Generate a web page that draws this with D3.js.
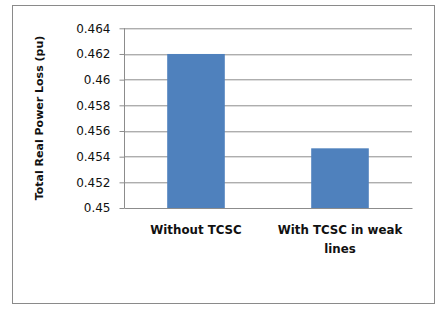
<!DOCTYPE html>
<html>
<head>
<meta charset="utf-8">
<script src="https://cdn.jsdelivr.net/npm/d3@7"></script>
<style>
    body { margin: 0; background: #fff; }
    svg { display: block; font-family: "DejaVu Sans", Verdana, sans-serif; }
</style>
</head>
<body>
<div id="chart"></div>
<script>

// data
var categories = [["Without TCSC"], ["With TCSC in weak", "lines"]];
var losses = [0.462, 0.45465];
var tickValues = [0.45, 0.452, 0.454, 0.456, 0.458, 0.46, 0.462, 0.464];

// drawing area
var W = 441, H = 310;
var margin = {top: 28.3, right: 29, bottom: 102, left: 124};
var width = W - margin.left - margin.right,
    height = H - margin.top - margin.bottom;

var svg = d3.select("#chart").append("svg")
    .attr("width", W)
    .attr("height", H);

// outer chart border
svg.append("rect")
    .attr("x", 12.5).attr("y", 5.5)
    .attr("width", 422).attr("height", 298)
    .attr("fill", "none")
    .attr("stroke", "#8a8a8a")
    .attr("stroke-width", 1);

var g = svg.append("g")
    .attr("transform", "translate(" + margin.left + "," + margin.top + ")");

// scales
var x = d3.scaleBand()
    .domain(d3.range(categories.length))
    .range([0, width])
    .paddingInner(0.6)
    .paddingOuter(0.3);
var y = d3.scaleLinear()
    .domain([0.45, 0.464])
    .range([height, 0]);

// gridlines
g.selectAll(".grid")
    .data(tickValues.slice(1))
    .enter().append("line")
    .attr("class", "grid")
    .attr("x1", 0).attr("x2", width)
    .attr("y1", function(d) { return Math.round(y(d)) + 0.5; })
    .attr("y2", function(d) { return Math.round(y(d)) + 0.5; })
    .attr("stroke", "#8c8c8c");

// bars
g.selectAll(".bar")
    .data(losses)
    .enter().append("rect")
    .attr("class", "bar")
    .attr("x", function(d, i) { return x(i); })
    .attr("width", x.bandwidth())
    .attr("y", function(d) { return y(d); })
    .attr("height", function(d) { return height - y(d); })
    .attr("fill", "#4f81bd");

// y axis
var yAxis = g.append("g")
    .attr("transform", "translate(0.5,0)")
    .call(d3.axisLeft(y)
        .tickValues(tickValues)
        .tickSize(5)
        .tickPadding(9)
        .tickFormat(function(d) { return String(+d.toFixed(3)); }));
yAxis.select(".domain").attr("stroke", "#8c8c8c").attr("d", "M0," + height + "V0");
yAxis.selectAll(".tick line").attr("stroke", "#8c8c8c");
yAxis.selectAll(".tick text")
    .attr("fill", "#111")
    .style("font-size", "12px")
    .style("font-family", "'DejaVu Sans', sans-serif");

// x axis
var xAxis = g.append("g")
    .attr("transform", "translate(0," + (Math.round(height) - 0.3) + ")")
    .call(d3.axisBottom(x).tickSize(0).tickFormat(""));
xAxis.select(".domain").attr("stroke", "#8c8c8c");

// category labels (multi-line)
var labels = g.selectAll(".cat")
    .data(categories)
    .enter().append("text")
    .attr("class", "cat")
    .attr("text-anchor", "middle")
    .attr("font-size", "11.8px")
    .attr("font-weight", "bold")
    .attr("fill", "#111")
    .attr("transform", function(d, i) {
        return "translate(" + (x(i) + x.bandwidth() / 2) + "," + (height + 26) + ")";
    });
labels.selectAll("tspan")
    .data(function(d) { return d; })
    .enter().append("tspan")
    .attr("x", 0)
    .attr("dy", function(d, i) { return i === 0 ? 0 : 19; })
    .text(function(d) { return d; });

// y axis title
svg.append("text")
    .attr("transform", "translate(43," + 118 + ") rotate(-90)")
    .attr("text-anchor", "middle")
    .attr("font-size", "11px")
    .attr("font-weight", "bold")
    .attr("fill", "#111")
    .text("Total Real Power Loss (pu)");

</script>
</body>
</html>
